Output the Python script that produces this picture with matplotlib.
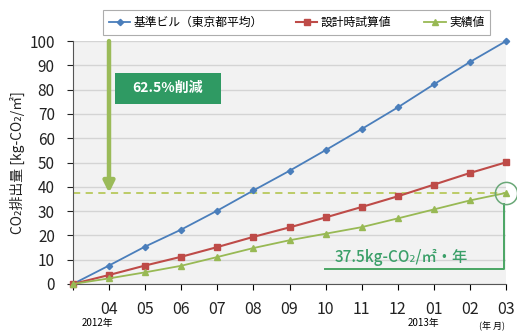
import numpy as np
import matplotlib
matplotlib.use('Agg')
import matplotlib.pyplot as plt
import matplotlib.transforms as mtransforms
from matplotlib.patches import Rectangle

plt.rcParams['font.family'] = ['Noto Sans CJK JP', 'DejaVu Sans']

# monthly cumulative CO2 emissions, 2012/03 - 2013/03
months = ['', '04', '05', '06', '07', '08', '09', '10', '11', '12', '01', '02', '03']
standard = [0, 7.6, 15.4, 22.4, 30.2, 38.5, 46.6, 55.1, 63.8, 72.7, 82.2, 91.4, 100]
design = [0, 3.7, 7.6, 11.2, 15.2, 19.4, 23.3, 27.4, 31.7, 36.1, 40.9, 45.7, 50.1]
actual = [0, 2.3, 4.8, 7.5, 11.1, 14.8, 18.0, 20.7, 23.4, 27.0, 30.7, 34.4, 37.5]
target = 37.5
labels = ['基準ビル（東京都平均）', '設計時試算値', '実績値']

x = np.arange(len(months))

fig = plt.figure(figsize=(5.17, 3.31), dpi=100)
ax = fig.add_axes([0.141, 0.142, 0.838, 0.734])
ax.set_facecolor('#f2f2f2')

ax.plot(x, standard, color='#4a7ebb', lw=1.3, marker='D', ms=3.2, label=labels[0], clip_on=False, zorder=4)
ax.plot(x, design, color='#be4b48', lw=1.5, marker='s', ms=4.5, label=labels[1], clip_on=False, zorder=4)
ax.plot(x, actual, color='#98b954', lw=1.3, marker='^', ms=4, label=labels[2], clip_on=False, zorder=4)

# dashed line at the actual annual value
ax.axhline(target, color='#b8c95c', lw=1.3, ls=(0, (4, 3)), zorder=2)

# reduction arrow and label box
ax.annotate('', xy=(1, target), xytext=(1, 100),
            arrowprops=dict(arrowstyle='-|>', lw=3.2, color='#9bbb59', mutation_scale=16,
                            shrinkA=0, shrinkB=0), zorder=3)
ax.add_patch(Rectangle((1.18, 74), 2.91, 13, facecolor='#2f9a63', edgecolor='none', zorder=5))
ax.text(2.63, 80.5, '62.5%削減', color='white', fontsize=10, fontweight='bold',
        ha='center', va='center', zorder=6)

# circle on final value with bracket to label
ax.plot([12], [target], marker='o', ms=16, mfc='none', mec='#6aa878', mew=1.1, clip_on=False, zorder=5)
ax.plot([11.93, 11.93, 6.98], [33.0, 6.2, 6.2], color='#4aa564', lw=1.4, zorder=3)
ax.text(7.25, 10.8, '37.5kg-CO₂/㎡・年', color='#3a9f68', fontsize=11, fontweight='medium',
        ha='left', va='center', family=['Noto Sans CJK JP', 'DejaVu Sans'], zorder=6)

ax.set_xlim(0, 12)
ax.set_ylim(0, 100)
ax.set_xticks(x)
ax.set_xticklabels(months, fontsize=11.5, color='#222222')
ax.set_yticks(np.arange(0, 101, 10))
ax.tick_params(axis='y', labelsize=11, length=4, pad=9, colors='#222222')
ax.tick_params(axis='x', length=4, pad=8)
ax.grid(axis='y', color='#d4d4d4', lw=1)
ax.set_axisbelow(True)
for side in ['top', 'right']:
    ax.spines[side].set_visible(False)
ax.spines['left'].set_color('#555555')
ax.spines['bottom'].set_color('#555555')
ax.set_ylabel('CO₂排出量 [kg-CO₂/㎡]', fontsize=10, labelpad=3, color='#222222')

trans = mtransforms.blended_transform_factory(ax.transData, fig.transFigure)
ax.text(0.69, 0.024, '2012年', transform=trans, fontsize=7, ha='center', va='center')
ax.text(9.72, 0.024, '2013年', transform=trans, fontsize=7, ha='center', va='center')
ax.text(11.25, 0.014, '(年 月)', transform=trans, fontsize=6.5, ha='left', va='center')

leg = fig.legend(loc='center', bbox_to_anchor=(0.574, 0.932), ncol=3, fontsize=8.5,
                 frameon=True, fancybox=False, edgecolor='#999999', handlelength=1.8,
                 columnspacing=2.8, borderpad=0.5, handletextpad=0.3)
leg.get_frame().set_linewidth(0.8)

fig.savefig('out.png', dpi=100)
